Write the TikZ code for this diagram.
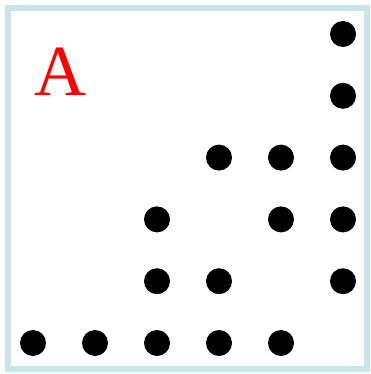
\documentclass[tikz,border=0pt]{standalone}
\usepackage{fontspec}
\setmainfont{Liberation Serif}
\definecolor{frameblue}{RGB}{200,230,232}
\begin{document}
\begin{tikzpicture}[
    x=1pt, y=-1pt,
    dot/.style={circle, fill=black, minimum size=26pt, inner sep=0pt},
    frame/.style={draw=frameblue, line width=6pt}
]
\useasboundingbox (0,0) rectangle (370,374);
\draw [frame] (8,8) rectangle (367,369);
\node (label) [text=red, font=\fontsize{72}{72}\selectfont, inner sep=0pt] at (60,72) {A};
% dots: column/row on a 62pt grid
\foreach \c/\r in {6/1, 6/2, 4/3, 5/3, 6/3, 3/4, 5/4, 6/4, 3/5, 4/5, 6/5,
                   1/6, 2/6, 3/6, 4/6, 5/6}
  \node (d\c\r) [dot] at ({33+62*(\c-1)}, {34+61.8*(\r-1)}) {};
\end{tikzpicture}
\end{document}
